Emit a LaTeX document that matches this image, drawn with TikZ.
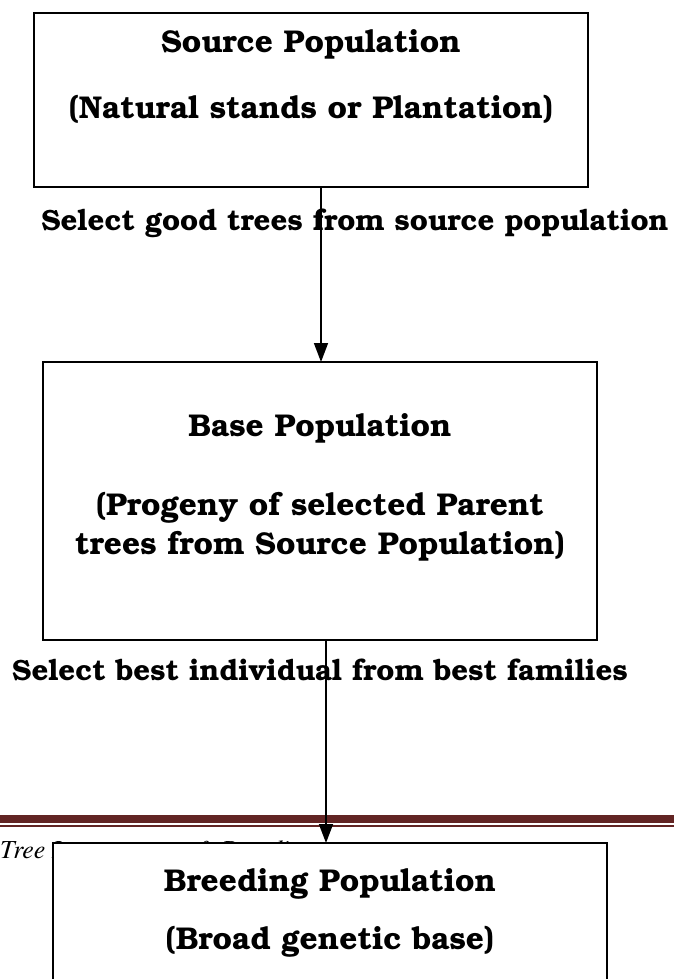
\documentclass[tikz,border=0pt]{standalone}
\usepackage[T1]{fontenc}
\usepackage{bookman}
\usetikzlibrary{arrows.meta}
\definecolor{footred}{HTML}{622423}
\begin{document}
\begin{tikzpicture}[x=1pt,y=-1pt,
  box/.style={draw=black, line width=1.6pt, fill=white, minimum width=554pt, inner sep=0pt, outer sep=0pt},
  txt/.style={font=\fontsize{31.5}{38}\selectfont\bfseries, inner sep=0pt, anchor=base},
  lbl/.style={font=\fontsize{29.3}{35}\selectfont\bfseries, inner sep=0pt, anchor=base},
  conn/.style={draw=black, line width=1.6pt, -{Triangle[length=19pt,width=14pt]}},
  footline/.style={draw=footred},
  foottext/.style={font=\fontfamily{ptm}\fontseries{m}\fontshape{it}\fontsize{26}{30}\selectfont, inner sep=0pt, anchor=base west}]
\clip (0,0) rectangle (674,979);
\fill[white] (0,0) rectangle (674,979);
% footer (partly hidden behind the third box)
\node[foottext] (foot) at (0,858) {Tree Improvement \& Breeding};
\draw[footline, line width=8pt] (0,819) -- (674,819);
\draw[footline, line width=1.8pt] (0,826) -- (674,826);
% boxes
\node[box, minimum height=174pt] (b1) at (311,100) {};
\node[box, minimum height=278pt] (b2) at (320,501) {};
% texts in box 1
\node[txt] (t1a) at (311,53) {Source Population};
\node[txt] (t1b) at (311,118) {(Natural stands or Plantation)};
% texts in box 2
\node[txt] (t2a) at (320,436) {Base Population};
\node[txt] (t2b) at (320,515) {(Progeny of selected Parent};
\node[txt] (t2c) at (320,554) {trees from Source Population)};
% labels
\node[lbl] (l1) at (355,230) {Select good trees from source population};
\node[lbl] (l2) at (320,680) {Select best individual from best families};
% arrows
\coordinate (a1) at (321,0);
\coordinate (a2) at (326,0);
\draw[conn] (b1.south -| a1) -- (b2.north -| a1);
% box 3
\node[box, minimum height=300pt, anchor=north west] (b3) at (53,843) {};
\node[txt] (t3a) at (330,891) {Breeding Population};
\node[txt] (t3b) at (330,949) {(Broad genetic base)};
\draw[conn] (b2.south -| a2) -- (b3.north -| a2);
\end{tikzpicture}
\end{document}
